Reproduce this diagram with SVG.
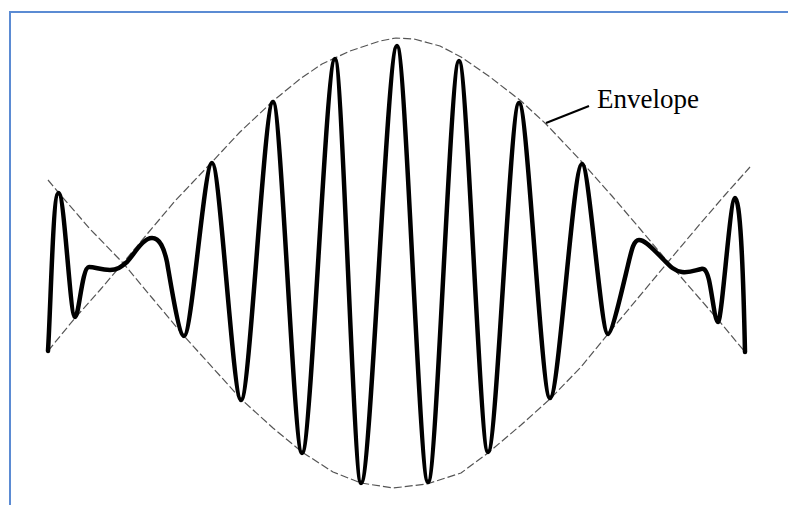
<svg xmlns="http://www.w3.org/2000/svg" width="788" height="505" viewBox="0 0 788 505">
  <style>
    .frame { fill: none; stroke: #5b8bd3; stroke-width: 2; }
    .env { fill: none; stroke: #555; stroke-width: 1.2; stroke-dasharray: 8 3; stroke-linejoin: round; }
    .wave { fill: none; stroke: #000; stroke-width: 4.5; stroke-linecap: round; stroke-linejoin: round; }
    .leader { fill: none; stroke: #000; stroke-width: 2; }
    .label { font-family: "Liberation Serif", "Times New Roman", serif; font-size: 27px; fill: #000; }
  </style>
  <rect x="0" y="0" width="788" height="505" fill="#fff"/>
  <g id="frame">
    <path class="frame" d="M10,505 L10,12 L788,12"/>
  </g>
  <g id="envelope">
    <polyline id="envelope-upper" class="env" points="48,351 75,318 100,290 123,263 148,233 175,201 212,162 240,132 273,101 300,79 322,64 350,51 380,41 396,38 414,39 440,46 461,57 490,77 521,101 546,124 581,161 612,196 641,230 668,262 700,299 720,322 745,352"/>
    <polyline id="envelope-lower" class="env" points="48,180 58,192 90,229 123,263 153,299 184,336 213,368 241,399 273,428 302,452 333,472 361,483 393,488 427,484 461,473 488,453 521,425 550,399 581,367 608,334 638,298 668,262 700,224 725,195 750,167"/>
  </g>
  <g id="wave">
    <path class="wave" d="M48,351 C51,300 53,193 58.5,193 C64.5,193 70,317 75,317 C79,317 82,267 89,267 C95,267 101,270 110,270 C118,270 122,266 127,262 C135,253 143,238 152,238 C160,238 164,248 167,262 C171,285 179,336 184,336 C191.84,336 204.16,163 212,163 C220.12,163 232.88,400 241,400 C249.96,400 264.04,102 273,102 C281.12,102 293.88,453 302,453 C311.24,453 325.76,59 335,59 C342.28,59 353.72,483 361,483 C371.08,483 386.92,46 397,46 C405.68,46 419.32,482 428,482 C436.68,482 450.32,61 459,61 C467.12,61 479.88,452 488,452 C496.68,452 510.32,103 519,103 C527.68,103 541.32,398 550,398 C558.96,398 573.04,164 582,164 C589.28,164 600.72,334 608,334 C612,334 622,290 628,265 C632,248 634,240 639,240 C645,240 652,248 660,256 C668,264 673,271 682,272 C690,273 696,270 701,269 C705,268 707,272 709,280 C712,293 715,322 718,322 C722,322 730,198 735,198 C740,198 743,260 745,352"/>
  </g>
  <g id="label-envelope">
    <line class="leader" x1="546" y1="123" x2="589" y2="106"/>
    <text class="label" x="597" y="108">Envelope</text>
  </g>
</svg>
